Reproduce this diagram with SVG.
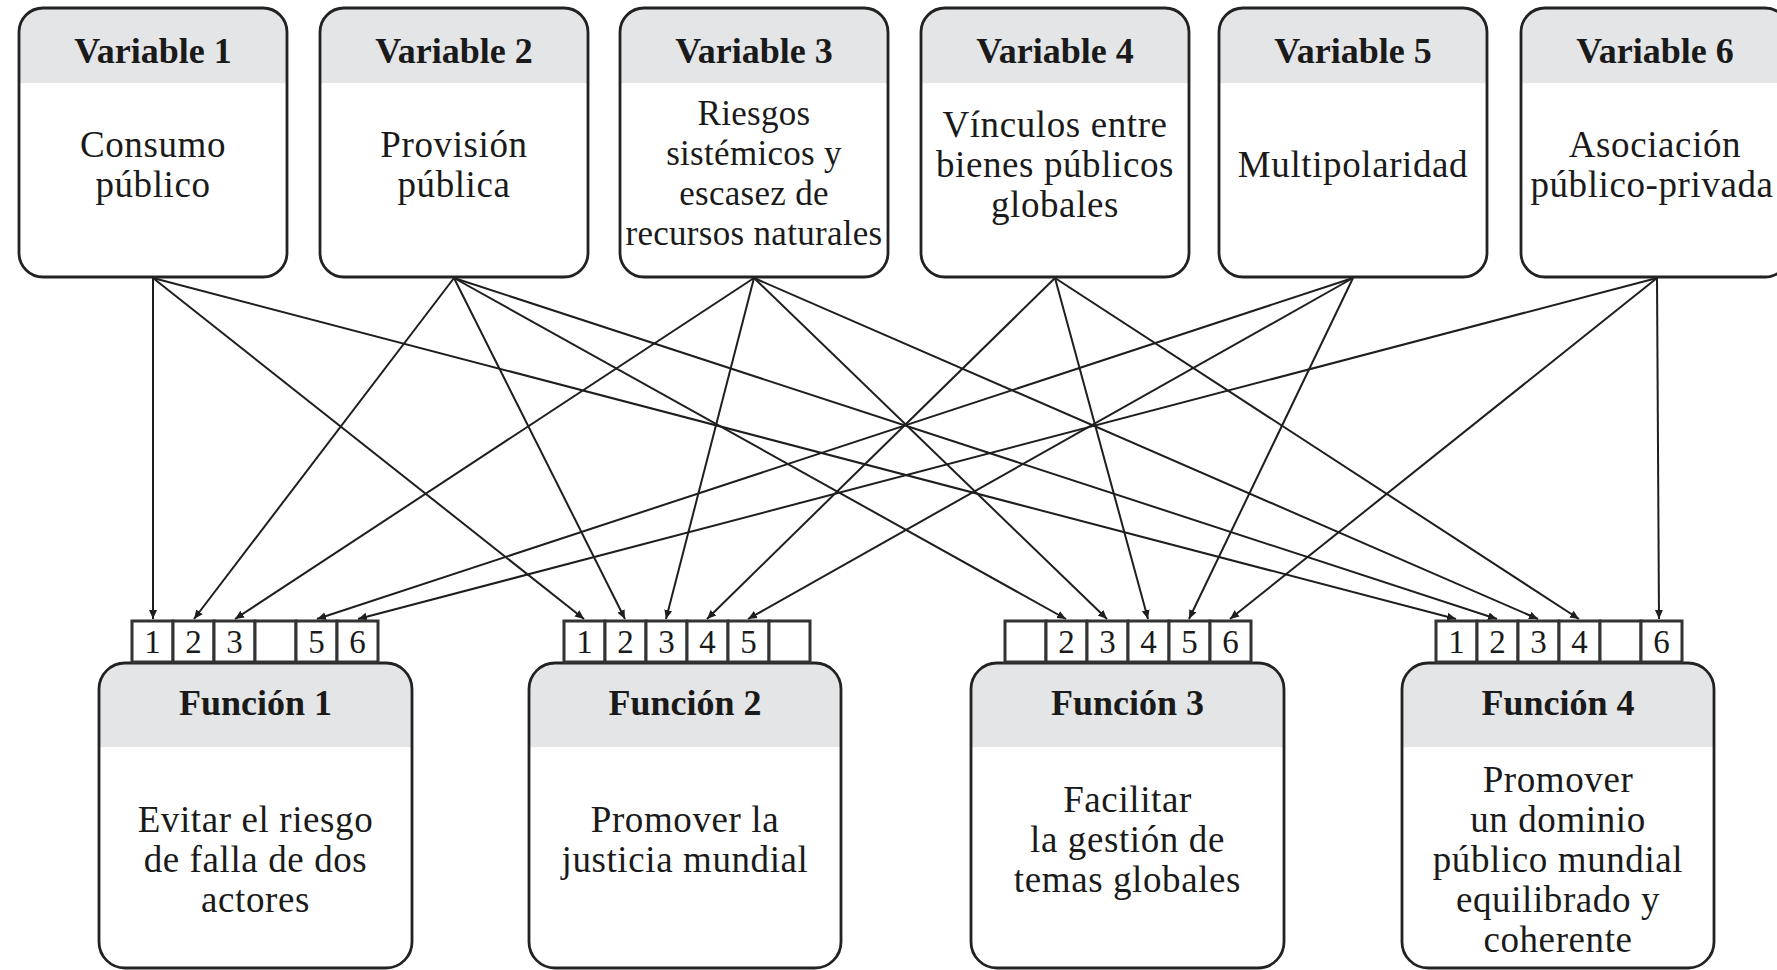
<svg xmlns="http://www.w3.org/2000/svg" width="1777" height="970" viewBox="0 0 1777 970">
<defs>
<style>
.box{fill:none;stroke:#222;stroke-width:2.8}
.hdr{fill:#e4e5e6}
.bg{fill:#fff}
.ttl{font-family:"Liberation Serif","Times New Roman",serif;font-weight:bold;font-size:36px;fill:#1a1a1a;text-anchor:middle}
.txt{font-family:"Liberation Serif","Times New Roman",serif;font-size:37px;letter-spacing:0.6px;fill:#1a1a1a;text-anchor:middle}
.txt3{font-family:"Liberation Serif","Times New Roman",serif;font-size:35px;letter-spacing:0.3px;fill:#1a1a1a;text-anchor:middle}
.port{fill:#fff;stroke:#333;stroke-width:3}
.num{font-family:"Liberation Serif","Times New Roman",serif;font-size:33px;fill:#1a1a1a;text-anchor:middle}
.con{stroke:#1e1e1e;stroke-width:2;fill:none;marker-end:url(#ah)}
</style>
<marker id="ah" markerUnits="userSpaceOnUse" markerWidth="10" markerHeight="10" viewBox="0 0 10 10" refX="9" refY="5" orient="auto">
<path d="M0,1 L9,5 L0,9 Z" fill="#1e1e1e"/>
</marker>
</defs>
<rect width="1777" height="970" fill="#fff"/>

<g id="connectors">
<!-- Variable 1 -->
<line class="con" x1="153" y1="278" x2="153" y2="619"/>
<line class="con" x1="153" y1="278" x2="584" y2="619"/>
<line class="con" x1="153" y1="278" x2="1456" y2="619"/>
<!-- Variable 2 -->
<line class="con" x1="454" y1="278" x2="194" y2="619"/>
<line class="con" x1="454" y1="278" x2="625" y2="619"/>
<line class="con" x1="454" y1="278" x2="1066" y2="619"/>
<line class="con" x1="454" y1="278" x2="1497" y2="619"/>
<!-- Variable 3 -->
<line class="con" x1="754" y1="278" x2="235" y2="619"/>
<line class="con" x1="754" y1="278" x2="666" y2="619"/>
<line class="con" x1="754" y1="278" x2="1107" y2="619"/>
<line class="con" x1="754" y1="278" x2="1538" y2="619"/>
<!-- Variable 4 -->
<line class="con" x1="1055" y1="278" x2="707" y2="619"/>
<line class="con" x1="1055" y1="278" x2="1148" y2="619"/>
<line class="con" x1="1055" y1="278" x2="1579" y2="619"/>
<!-- Variable 5 -->
<line class="con" x1="1353" y1="278" x2="317" y2="619"/>
<line class="con" x1="1353" y1="278" x2="748" y2="619"/>
<line class="con" x1="1353" y1="278" x2="1189" y2="619"/>
<!-- Variable 6 -->
<line class="con" x1="1657" y1="278" x2="358" y2="619"/>
<line class="con" x1="1657" y1="278" x2="1230" y2="619"/>
<line class="con" x1="1657" y1="278" x2="1659" y2="619"/>
</g>

<g id="variable1">
<rect class="bg" x="19" y="8" width="268" height="269" rx="24"/>
<path class="hdr" d="M19,83 V32 A24,24 0 0 1 43,8 H263 A24,24 0 0 1 287,32 V83 Z"/>
<rect class="box" x="19" y="8" width="268" height="269" rx="24"/>
<text class="ttl" x="153" y="63">Variable 1</text>
<text class="txt" x="153" y="157">Consumo</text>
<text class="txt" x="153" y="197">público</text>
</g>

<g id="variable2">
<rect class="bg" x="320" y="8" width="268" height="269" rx="24"/>
<path class="hdr" d="M320,83 V32 A24,24 0 0 1 344,8 H564 A24,24 0 0 1 588,32 V83 Z"/>
<rect class="box" x="320" y="8" width="268" height="269" rx="24"/>
<text class="ttl" x="454" y="63">Variable 2</text>
<text class="txt" x="454" y="157">Provisión</text>
<text class="txt" x="454" y="197">pública</text>
</g>

<g id="variable3">
<rect class="bg" x="620" y="8" width="268" height="269" rx="24"/>
<path class="hdr" d="M620,83 V32 A24,24 0 0 1 644,8 H864 A24,24 0 0 1 888,32 V83 Z"/>
<rect class="box" x="620" y="8" width="268" height="269" rx="24"/>
<text class="ttl" x="754" y="63">Variable 3</text>
<text class="txt3" x="754" y="125">Riesgos</text>
<text class="txt3" x="754" y="165">sistémicos y</text>
<text class="txt3" x="754" y="205">escasez de</text>
<text class="txt3" x="754" y="245">recursos naturales</text>
</g>

<g id="variable4">
<rect class="bg" x="921" y="8" width="268" height="269" rx="24"/>
<path class="hdr" d="M921,83 V32 A24,24 0 0 1 945,8 H1165 A24,24 0 0 1 1189,32 V83 Z"/>
<rect class="box" x="921" y="8" width="268" height="269" rx="24"/>
<text class="ttl" x="1055" y="63">Variable 4</text>
<text class="txt" x="1055" y="137">Vínculos entre</text>
<text class="txt" x="1055" y="177">bienes públicos</text>
<text class="txt" x="1055" y="217">globales</text>
</g>

<g id="variable5">
<rect class="bg" x="1219" y="8" width="268" height="269" rx="24"/>
<path class="hdr" d="M1219,83 V32 A24,24 0 0 1 1243,8 H1463 A24,24 0 0 1 1487,32 V83 Z"/>
<rect class="box" x="1219" y="8" width="268" height="269" rx="24"/>
<text class="ttl" x="1353" y="63">Variable 5</text>
<text class="txt" x="1353" y="177">Multipolaridad</text>
</g>

<g id="variable6">
<rect class="bg" x="1521" y="8" width="268" height="269" rx="24"/>
<path class="hdr" d="M1521,83 V32 A24,24 0 0 1 1545,8 H1765 A24,24 0 0 1 1789,32 V83 Z"/>
<rect class="box" x="1521" y="8" width="268" height="269" rx="24"/>
<text class="ttl" x="1655" y="63">Variable 6</text>
<text class="txt" x="1655" y="157">Asociación</text>
<text class="txt" x="1652" y="197">público-privada</text>
</g>

<g id="funcion1">
<rect class="bg" x="99" y="663" width="313" height="305" rx="26"/>
<path class="hdr" d="M99,747 V689 A26,26 0 0 1 125,663 H386 A26,26 0 0 1 412,689 V747 Z"/>
<rect class="box" x="99" y="663" width="313" height="305" rx="26"/>
<rect class="port" x="132" y="621" width="41" height="41"/>
<rect class="port" x="173" y="621" width="41" height="41"/>
<rect class="port" x="214" y="621" width="41" height="41"/>
<rect class="port" x="255" y="621" width="41" height="41"/>
<rect class="port" x="296" y="621" width="41" height="41"/>
<rect class="port" x="337" y="621" width="41" height="41"/>
<text class="num" x="152.5" y="653">1</text>
<text class="num" x="193.5" y="653">2</text>
<text class="num" x="234.5" y="653">3</text>
<text class="num" x="316.5" y="653">5</text>
<text class="num" x="357.5" y="653">6</text>
<text class="ttl" x="255.5" y="715">Función 1</text>
<text class="txt" x="255.5" y="832">Evitar el riesgo</text>
<text class="txt" x="255.5" y="872">de falla de dos</text>
<text class="txt" x="255.5" y="912">actores</text>
</g>

<g id="funcion2">
<rect class="bg" x="529" y="663" width="312" height="305" rx="26"/>
<path class="hdr" d="M529,747 V689 A26,26 0 0 1 555,663 H815 A26,26 0 0 1 841,689 V747 Z"/>
<rect class="box" x="529" y="663" width="312" height="305" rx="26"/>
<rect class="port" x="564" y="621" width="41" height="41"/>
<rect class="port" x="605" y="621" width="41" height="41"/>
<rect class="port" x="646" y="621" width="41" height="41"/>
<rect class="port" x="687" y="621" width="41" height="41"/>
<rect class="port" x="728" y="621" width="41" height="41"/>
<rect class="port" x="769" y="621" width="41" height="41"/>
<text class="num" x="584.5" y="653">1</text>
<text class="num" x="625.5" y="653">2</text>
<text class="num" x="666.5" y="653">3</text>
<text class="num" x="707.5" y="653">4</text>
<text class="num" x="748.5" y="653">5</text>
<text class="ttl" x="685" y="715">Función 2</text>
<text class="txt" x="685" y="832">Promover la</text>
<text class="txt" x="685" y="872">justicia mundial</text>
</g>

<g id="funcion3">
<rect class="bg" x="971" y="663" width="313" height="305" rx="26"/>
<path class="hdr" d="M971,747 V689 A26,26 0 0 1 997,663 H1258 A26,26 0 0 1 1284,689 V747 Z"/>
<rect class="box" x="971" y="663" width="313" height="305" rx="26"/>
<rect class="port" x="1005" y="621" width="41" height="41"/>
<rect class="port" x="1046" y="621" width="41" height="41"/>
<rect class="port" x="1087" y="621" width="41" height="41"/>
<rect class="port" x="1128" y="621" width="41" height="41"/>
<rect class="port" x="1169" y="621" width="41" height="41"/>
<rect class="port" x="1210" y="621" width="41" height="41"/>
<text class="num" x="1066.5" y="653">2</text>
<text class="num" x="1107.5" y="653">3</text>
<text class="num" x="1148.5" y="653">4</text>
<text class="num" x="1189.5" y="653">5</text>
<text class="num" x="1230.5" y="653">6</text>
<text class="ttl" x="1127.5" y="715">Función 3</text>
<text class="txt" x="1127.5" y="812">Facilitar</text>
<text class="txt" x="1127.5" y="852">la gestión de</text>
<text class="txt" x="1127.5" y="892">temas globales</text>
</g>

<g id="funcion4">
<rect class="bg" x="1402" y="663" width="312" height="305" rx="26"/>
<path class="hdr" d="M1402,747 V689 A26,26 0 0 1 1428,663 H1688 A26,26 0 0 1 1714,689 V747 Z"/>
<rect class="box" x="1402" y="663" width="312" height="305" rx="26"/>
<rect class="port" x="1436" y="621" width="41" height="41"/>
<rect class="port" x="1477" y="621" width="41" height="41"/>
<rect class="port" x="1518" y="621" width="41" height="41"/>
<rect class="port" x="1559" y="621" width="41" height="41"/>
<rect class="port" x="1600" y="621" width="41" height="41"/>
<rect class="port" x="1641" y="621" width="41" height="41"/>
<text class="num" x="1456.5" y="653">1</text>
<text class="num" x="1497.5" y="653">2</text>
<text class="num" x="1538.5" y="653">3</text>
<text class="num" x="1579.5" y="653">4</text>
<text class="num" x="1661.5" y="653">6</text>
<text class="ttl" x="1558" y="715">Función 4</text>
<text class="txt" x="1558" y="792">Promover</text>
<text class="txt" x="1558" y="832">un dominio</text>
<text class="txt" x="1558" y="872">público mundial</text>
<text class="txt" x="1558" y="912">equilibrado y</text>
<text class="txt" x="1558" y="952">coherente</text>
</g>
</svg>
